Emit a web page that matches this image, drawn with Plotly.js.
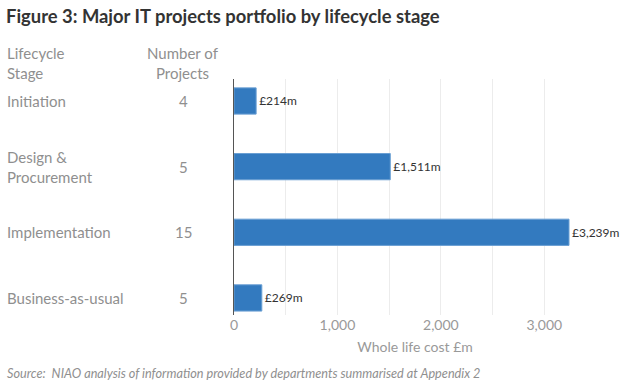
<!DOCTYPE html>
<html><head><meta charset="utf-8">
<script src="https://cdn.plot.ly/plotly-3.0.1.min.js"></script>
<style>body{margin:0;background:#fff}#c{width:620px;height:386px}</style>
</head><body><div id="c"></div>
<script>
const stages = ["Initiation", "Design &<br>Procurement", "Implementation", "Business-as-usual"];
const projectCounts = [4, 5, 15, 5];
const wholeLifeCost = [214, 1511, 3239, 269];
const costLabels = ["£214m", "£1,511m", "£3,239m", "£269m"];
const xTickVals = [0, 500, 1000, 1500, 2000, 2500, 3000, 3500];
const xTickText = ["0", "", "1,000", "", "2,000", "", "3,000", ""];

const FONT = "Lato, 'Open Sans', sans-serif";
const GREY = "#8f8f8f";
const idx = stages.map((s, i) => i);

const trace = {
  type: "bar", orientation: "h",
  x: wholeLifeCost, y: idx,
  width: 0.4,
  marker: {color: "#337abf", line: {color: "#6a9fd3", width: 1}},
  text: costLabels, textposition: "outside", cliponaxis: false,
  textfont: {family: FONT, size: 12, color: "#333"},
  hoverinfo: "none"
};

const LX = -0.633;
const annotations = [];
stages.forEach((s, i) => {
  annotations.push({xref: "paper", yref: "y", x: LX, y: i, text: s, showarrow: false,
    xanchor: "left", align: "left", font: {family: FONT, size: 15, color: GREY}});
  annotations.push({xref: "paper", yref: "y", x: -0.14, y: i, text: String(projectCounts[i]), showarrow: false,
    xanchor: "center", font: {family: FONT, size: 15, color: GREY}});
});
annotations.push({xref: "paper", yref: "paper", x: LX, y: 1, yshift: -5, yanchor: "bottom", text: "Lifecycle<br>Stage",
  showarrow: false, xanchor: "left", align: "left", font: {family: FONT, size: 15, color: GREY}});
annotations.push({xref: "paper", yref: "paper", x: -0.14, y: 1, yshift: -5, yanchor: "bottom", text: "Number of<br>Projects",
  showarrow: false, xanchor: "center", align: "center", font: {family: FONT, size: 15, color: GREY}});
annotations.push({xref: "paper", yref: "paper", x: LX, y: -0.2, yshift: -1, yanchor: "top", xanchor: "left",
  text: "<i>Source:  NIAO analysis of information provided by departments summarised at Appendix 2</i>",
  showarrow: false, font: {family: FONT, size: 12.7, color: GREY}});

const layout = {
  width: 620, height: 386,
  margin: {l: 234, r: 24, t: 79, b: 71},
  paper_bgcolor: "#fff", plot_bgcolor: "#fff",
  showlegend: false,
  title: {text: "<b>Figure 3: Major IT projects portfolio by lifecycle stage</b>",
    font: {family: FONT, size: 18.4, color: "#333"}, x: 6/620, xanchor: "left", xref: "container", yref: "container", y: 1 - 17/386, yanchor: "middle"},
  xaxis: {range: [0, 3500], tickvals: xTickVals, ticktext: xTickText,
    showgrid: true, gridcolor: "#ececec", gridwidth: 1, zeroline: false,
    tickfont: {family: FONT, size: 14, color: "#999"}, ticks: "",
    title: {text: "Whole life cost £m", font: {family: FONT, size: 14, color: "#999"}, standoff: 10}},
  yaxis: {range: [3.26, -0.335], showticklabels: false, showgrid: false, zeroline: false,
    showline: true, linecolor: "#555", linewidth: 1.5, ticks: ""},
  annotations: annotations
};
Plotly.newPlot("c", [trace], layout, {displayModeBar: false, staticPlot: true});
</script></body></html>
